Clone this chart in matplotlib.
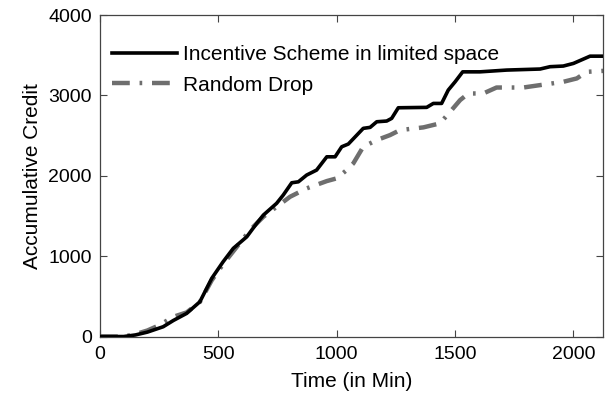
import matplotlib
matplotlib.use("Agg")
import matplotlib.pyplot as plt

plt.rcParams['font.family'] = ['Liberation Sans', 'DejaVu Sans']

# Incentive Scheme in limited space
inc_x = [0, 100, 150, 200, 267, 310, 366, 422, 472, 520, 563, 620, 662, 690, 746, 774, 810, 838,
         873, 915, 958, 993, 1021, 1049, 1112, 1141, 1169, 1211, 1232, 1260, 1380, 1408, 1443,
         1471, 1500, 1532, 1605, 1718, 1859, 1901, 1957, 2000, 2070, 2126]
inc_y = [0, 0, 20, 55, 122, 200, 288, 433, 724, 930, 1097, 1241, 1408, 1511, 1657, 1760, 1913, 1925,
         2009, 2071, 2236, 2236, 2361, 2395, 2590, 2602, 2672, 2681, 2714, 2846, 2851, 2900, 2900,
         3066, 3169, 3293, 3293, 3315, 3328, 3357, 3365, 3398, 3488, 3488]

# Random Drop
rd_x = [0, 100, 150, 200, 250, 310, 366, 422, 472, 520, 563, 634, 690, 746, 803, 873, 958, 1000,
        1042, 1070, 1112, 1169, 1225, 1267, 1366, 1436, 1479, 1521, 1556, 1619, 1675, 1788, 1859,
        1957, 2014, 2056, 2126]
rd_y = [0, 0, 30, 75, 140, 246, 300, 430, 700, 900, 1060, 1325, 1490, 1614, 1739, 1843, 1934, 1968,
        2071, 2154, 2361, 2444, 2506, 2568, 2602, 2652, 2796, 2941, 3024, 3024, 3098, 3098, 3128,
        3169, 3211, 3293, 3305]

x_ticks = [0, 500, 1000, 1500, 2000]
y_ticks = [0, 1000, 2000, 3000, 4000]

fig = plt.figure(figsize=(6.15, 3.95), dpi=100)
ax = fig.add_axes([0.1626, 0.148, 0.818, 0.814])

ax.plot(inc_x, inc_y, color='black', lw=2.6, label='Incentive Scheme in limited space',
        solid_joinstyle='round', zorder=3)
ax.plot(rd_x, rd_y, color='#6e6e6e', lw=3.2, ls=(0, (4, 2.2, 0.6, 2.2)), label='Random Drop',
        zorder=2)

ax.set_xlim(0, 2125)
ax.set_ylim(0, 4000)
ax.set_xticks(x_ticks)
ax.set_yticks(y_ticks)
ax.tick_params(direction='in', top=True, right=True, labelsize=14, length=5, color='#444444', width=0.8)
ax.tick_params(axis='x', pad=7)
ax.tick_params(axis='y', pad=6)
for s in ax.spines.values():
    s.set_color('#444444')
    s.set_linewidth(0.9)

ax.set_xlabel('Time (in Min)', fontsize=15, labelpad=6)
ax.set_ylabel('Accumulative Credit', fontsize=15, labelpad=4)

leg = ax.legend(loc='upper left', frameon=False, fontsize=15, handlelength=3.1,
                handletextpad=0.3, borderaxespad=0.2, labelspacing=0.55,
                bbox_to_anchor=(0.0, 0.945))

fig.savefig('out.png', dpi=100)
